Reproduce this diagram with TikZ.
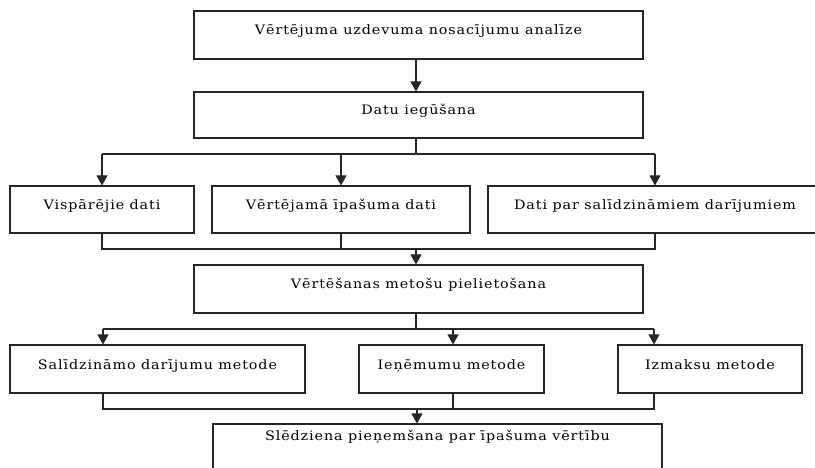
\documentclass[tikz,border=0pt]{standalone}
\usepackage{fontspec}
\setmainfont{DejaVu Serif}[LetterSpace=7,FakeStretch=1.1]
\usetikzlibrary{arrows.meta}
\begin{document}
\begin{tikzpicture}[x=1pt,y=-1pt,
  box/.style={draw=black!85, line width=1.1pt, fill=white, inner sep=0pt,
    font=\fontsize{13pt}{15pt}\selectfont, text height=9pt, text depth=9pt},
  link/.style={draw=black!85, line width=1.1pt},
  arr/.style={link, -{Triangle[width=11pt,length=10pt]}}]
\useasboundingbox (0,0) rectangle (815,468);
\clip (0,0) rectangle (815,468);
\fill[white] (0,0) rectangle (815,468);

% process boxes
\node[box, minimum width=449pt, minimum height=48pt] (b1) at (418.5,35) {Vērtējuma uzdevuma nosacījumu analīze};
\node[box, minimum width=449pt, minimum height=46pt] (b2) at (418.5,115) {Datu iegūšana};
\node[box, minimum width=184pt, minimum height=47pt] (b3a) at (102,209.5) {Vispārējie dati};
\node[box, minimum width=258pt, minimum height=47pt] (b3b) at (341,209.5) {Vērtējamā īpašuma dati};
\node[box, minimum width=334pt, minimum height=47pt] (b3c) at (655,209.5) {Dati par salīdzināmiem darījumiem};
\node[box, minimum width=449pt, minimum height=48pt] (b4) at (418.5,289) {Vērtēšanas metošu pielietošana};
\node[box, minimum width=295pt, minimum height=48pt] (b5a) at (157.5,369) {Salīdzināmo darījumu metode};
\node[box, minimum width=185pt, minimum height=48pt] (b5b) at (451.5,369) {Ieņēmumu metode};
\node[box, minimum width=184pt, minimum height=48pt] (b5c) at (710,369) {Izmaksu metode};
\node[box, minimum width=449pt, minimum height=47pt, text height=6pt, text depth=20pt] (b6) at (437.5,447.5) {Slēdziena pieņemšana par īpašuma vērtību};

% junction points of the branching lines
\coordinate (s1) at (416,154);
\coordinate (j1) at (416,249);
\coordinate (s2) at (416,329);
\coordinate (j2) at (417,409);
\coordinate (s2a) at (103,329);
\coordinate (s2b) at (453,329);
\coordinate (s2c) at (654,329);
\coordinate (j2a) at (103,409);
\coordinate (j2b) at (453,409);
\coordinate (j2c) at (654,409);

% analysis -> data collection
\draw[arr] (b1.south -| s1) -- (b2.north -| s1);

% data collection splits into three data groups
\draw[link] (b2.south -| s1) -- (s1);
\draw[link] (s1 -| b3a.north) -- (s1 -| b3c.north);
\draw[arr] (s1 -| b3a.north) -- (b3a.north);
\draw[arr] (s1 -| b3b.north) -- (b3b.north);
\draw[arr] (s1 -| b3c.north) -- (b3c.north);

% data groups join into method application
\draw[link] (b3a.south) -- (j1 -| b3a.south) -- (j1 -| b3c.south) -- (b3c.south);
\draw[link] (b3b.south) -- (j1 -| b3b.south);
\draw[arr] (j1) -- (b4.north -| j1);

% method application splits into three methods
\draw[link] (b4.south -| s2) -- (s2);
\draw[link] (s2a) -- (s2c);
\draw[arr] (s2a) -- (s2a |- b5a.north);
\draw[arr] (s2b) -- (s2b |- b5b.north);
\draw[arr] (s2c) -- (s2c |- b5c.north);

% methods join into the conclusion
\draw[link] (j2a |- b5a.south) -- (j2a) -- (j2c) -- (j2c |- b5c.south);
\draw[link] (j2b |- b5b.south) -- (j2b);
\draw[arr] (j2) -- (b6.north -| j2);
\end{tikzpicture}
\end{document}
